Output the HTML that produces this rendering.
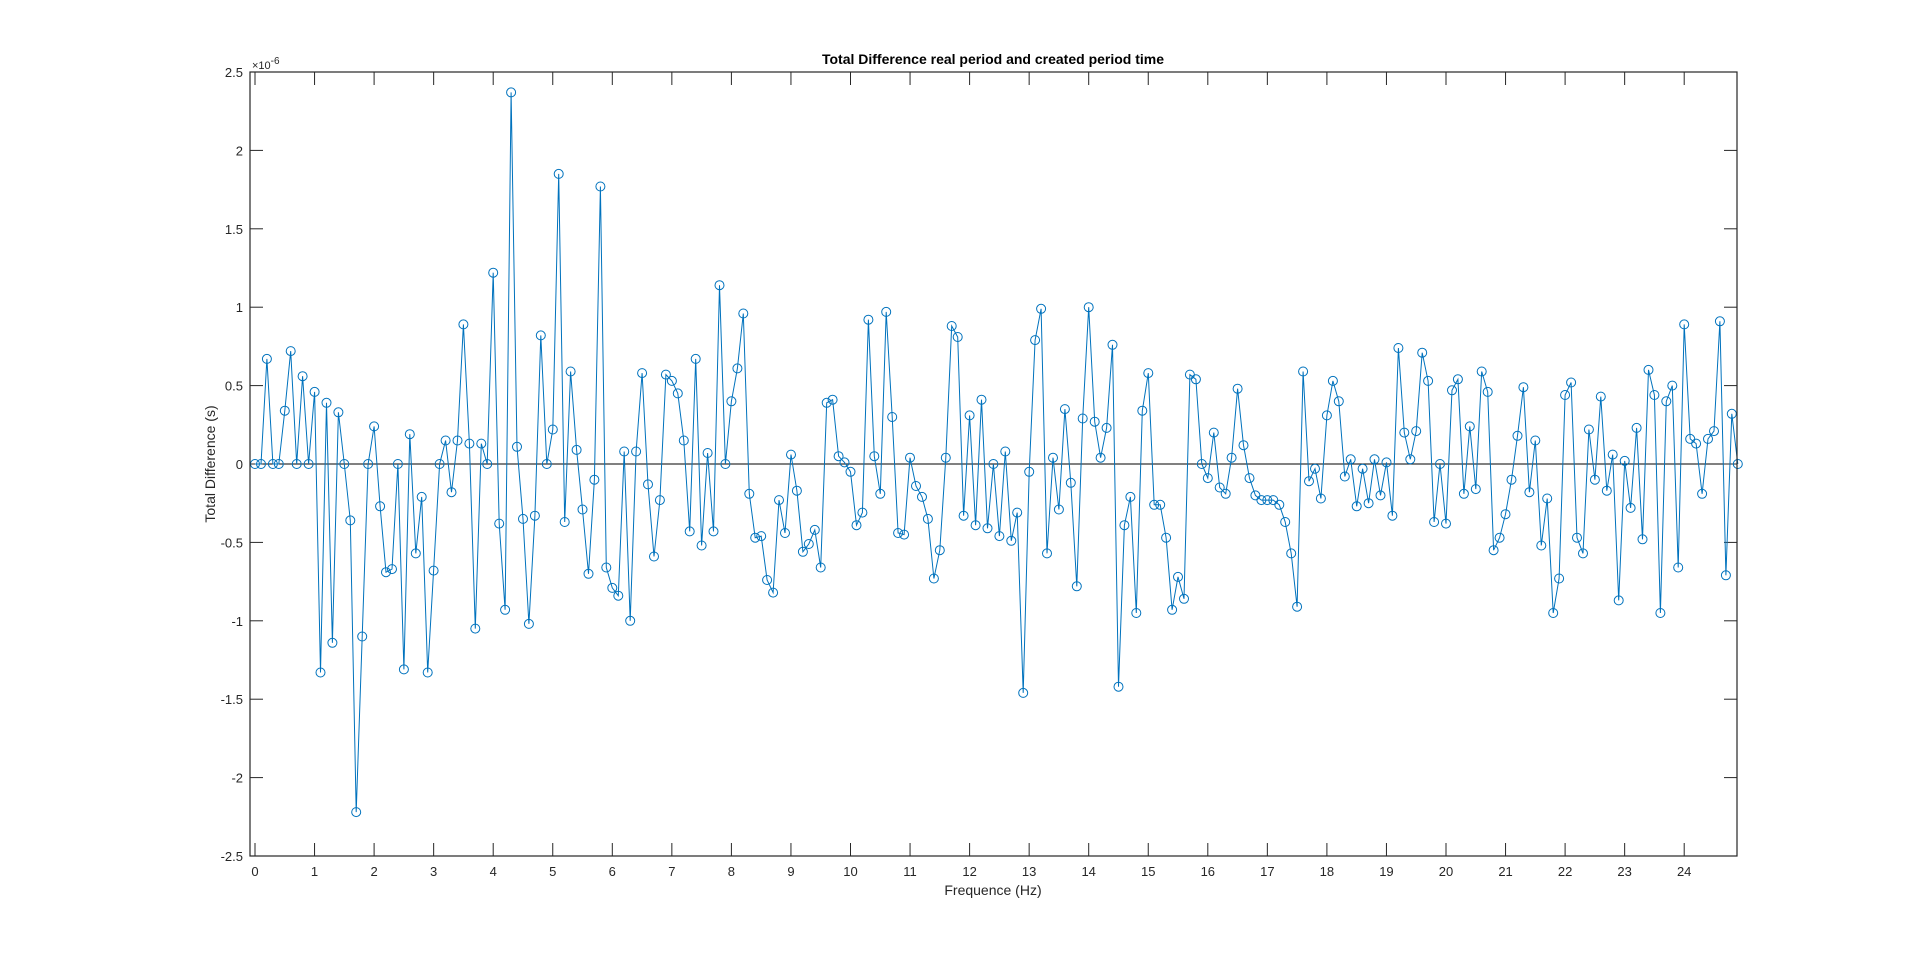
<!DOCTYPE html>
<html><head><meta charset="utf-8"><style>
body{margin:0;background:#fff;}
svg text{font-family:"Liberation Sans",Arial,sans-serif;fill:#262626;}
</style></head><body>
<svg id="s" width="1920" height="963" xmlns="http://www.w3.org/2000/svg"></svg>
<script>
const v=[0,0,0.67,0,0,0.34,0.72,0,0.56,0,0.46,-1.33,0.39,-1.14,0.33,0,-0.36,-2.22,-1.1,0,0.24,-0.27,-0.69,-0.67,0,-1.31,0.19,-0.57,-0.21,-1.33,-0.68,0,0.15,-0.18,0.15,0.89,0.13,-1.05,0.13,0,1.22,-0.38,-0.93,2.37,0.11,-0.35,-1.02,-0.33,0.82,0,0.22,1.85,-0.37,0.59,0.09,-0.29,-0.7,-0.1,1.77,-0.66,-0.79,-0.84,0.08,-1.0,0.08,0.58,-0.13,-0.59,-0.23,0.57,0.53,0.45,0.15,-0.43,0.67,-0.52,0.07,-0.43,1.14,0,0.4,0.61,0.96,-0.19,-0.47,-0.46,-0.74,-0.82,-0.23,-0.44,0.06,-0.17,-0.56,-0.51,-0.42,-0.66,0.39,0.41,0.05,0.01,-0.05,-0.39,-0.31,0.92,0.05,-0.19,0.97,0.3,-0.44,-0.45,0.04,-0.14,-0.21,-0.35,-0.73,-0.55,0.04,0.88,0.81,-0.33,0.31,-0.39,0.41,-0.41,0,-0.46,0.08,-0.49,-0.31,-1.46,-0.05,0.79,0.99,-0.57,0.04,-0.29,0.35,-0.12,-0.78,0.29,1.0,0.27,0.04,0.23,0.76,-1.42,-0.39,-0.21,-0.95,0.34,0.58,-0.26,-0.26,-0.47,-0.93,-0.72,-0.86,0.57,0.54,0,-0.09,0.2,-0.15,-0.19,0.04,0.48,0.12,-0.09,-0.2,-0.23,-0.23,-0.23,-0.26,-0.37,-0.57,-0.91,0.59,-0.11,-0.03,-0.22,0.31,0.53,0.4,-0.08,0.03,-0.27,-0.03,-0.25,0.03,-0.2,0.01,-0.33,0.74,0.2,0.03,0.21,0.71,0.53,-0.37,0,-0.38,0.47,0.54,-0.19,0.24,-0.16,0.59,0.46,-0.55,-0.47,-0.32,-0.1,0.18,0.49,-0.18,0.15,-0.52,-0.22,-0.95,-0.73,0.44,0.52,-0.47,-0.57,0.22,-0.1,0.43,-0.17,0.06,-0.87,0.02,-0.28,0.23,-0.48,0.6,0.44,-0.95,0.4,0.5,-0.66,0.89,0.16,0.13,-0.19,0.16,0.21,0.91,-0.71,0.32,0];
const L=250,R=1737,T=72,B=856,X0=255,SX=59.55,Y0=464,SY=156.8;
let h='';
h+=`<line x1="${L}" y1="${Y0}" x2="${R}" y2="${Y0}" stroke="#000" stroke-width="1"/>`;
for(let i=0;i<=24;i++){const x=X0+SX*i;
h+=`<line x1="${x}" y1="${B}" x2="${x}" y2="${B-13}" stroke="#262626"/><line x1="${x}" y1="${T}" x2="${x}" y2="${T+13}" stroke="#262626"/>`;
h+=`<text x="${x}" y="${B+20}" font-size="13" text-anchor="middle">${i}</text>`;}
for(let k=-5;k<=5;k++){const val=k/2,y=Y0-val*SY;
h+=`<line x1="${L}" y1="${y}" x2="${L+13}" y2="${y}" stroke="#262626"/><line x1="${R}" y1="${y}" x2="${R-13}" y2="${y}" stroke="#262626"/>`;
h+=`<text x="${L-7}" y="${y+5}" font-size="13" text-anchor="end">${val}</text>`;}
let p=v.map((a,i)=>`${(X0+SX*i/10).toFixed(1)},${(Y0-a*SY).toFixed(1)}`).join(' ');
h+=`<polyline points="${p}" fill="none" stroke="#0072BD" stroke-width="1"/>`;
v.forEach((a,i)=>{h+=`<circle cx="${(X0+SX*i/10).toFixed(1)}" cy="${(Y0-a*SY).toFixed(1)}" r="4.5" fill="none" stroke="#0072BD" stroke-width="1"/>`;});
h+=`<rect x="${L}" y="${T}" width="${R-L}" height="${B-T}" fill="none" stroke="#262626" stroke-width="1.2"/>`;
h+=`<text x="252" y="69" font-size="11">×10<tspan dy="-5" font-size="10">-6</tspan></text>`;
h+=`<text x="993" y="64" font-size="14" font-weight="bold" text-anchor="middle" style="fill:#000">Total Difference real period and created period time</text>`;
h+=`<text x="993" y="895" font-size="14" text-anchor="middle">Frequence (Hz)</text>`;
h+=`<text transform="translate(215,464) rotate(-90)" font-size="14" text-anchor="middle">Total Difference (s)</text>`;
document.getElementById('s').innerHTML=h;
</script>
</body></html>
